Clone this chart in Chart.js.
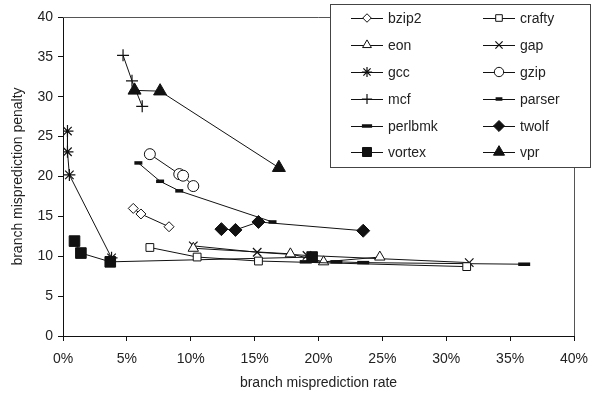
<!DOCTYPE html>
<html>
<head>
<meta charset="utf-8">
<script src="https://cdn.jsdelivr.net/npm/chart.js@4/dist/chart.umd.min.js"></script>
<style>
  html, body { margin: 0; padding: 0; background: #fff; }
  #wrap { width: 593px; height: 400px; }
</style>
</head>
<body>
<div id="wrap"><canvas id="chart" width="593" height="400"></canvas></div>
<script>
// branch misprediction rate (%) / penalty per benchmark
const benchmarks = ['bzip2', 'crafty', 'eon', 'gap', 'gcc', 'gzip', 'mcf', 'parser', 'perlbmk', 'twolf', 'vortex', 'vpr'];

const bzip2Rate = [5.5, 6.1, 8.3];
const bzip2Penalty = [16.0, 15.3, 13.7];
const craftyRate = [6.8, 10.5, 15.3, 31.6];
const craftyPenalty = [11.1, 9.9, 9.4, 8.7];
const eonRate = [10.2, 17.8, 20.4, 24.8];
const eonPenalty = [11.0, 10.3, 9.3, 9.9];
const gapRate = [10.2, 15.2, 19.1, 31.8];
const gapPenalty = [11.3, 10.5, 10.1, 9.2];
const gccRate = [0.35, 0.35, 0.5, 3.8];
const gccPenalty = [25.7, 23.1, 20.2, 9.8];
const gzipRate = [6.8, 9.1, 9.4, 10.2];
const gzipPenalty = [22.8, 20.3, 20.1, 18.8];
const mcfRate = [4.7, 5.4, 6.2];
const mcfPenalty = [35.2, 32.0, 28.8];
const parserRate = [5.9, 7.6, 9.1, 16.4];
const parserPenalty = [21.7, 19.4, 18.2, 14.3];
const perlbmkRate = [19.0, 21.4, 23.5, 36.1];
const perlbmkPenalty = [9.3, 9.3, 9.2, 9.0];
const twolfRate = [12.4, 13.5, 15.3, 23.5];
const twolfPenalty = [13.4, 13.3, 14.3, 13.2];
const vortexRate = [0.9, 1.4, 3.7, 19.5];
const vortexPenalty = [11.9, 10.4, 9.3, 9.9];
const vprRate = [5.6, 7.6, 16.9];
const vprPenalty = [30.8, 30.7, 21.1];

const xTicks = [0, 5, 10, 15, 20, 25, 30, 35, 40];
const yTicks = [0, 5, 10, 15, 20, 25, 30, 35, 40];

const rates = [bzip2Rate, craftyRate, eonRate, gapRate, gccRate, gzipRate, mcfRate, parserRate, perlbmkRate, twolfRate, vortexRate, vprRate];
const penalties = [bzip2Penalty, craftyPenalty, eonPenalty, gapPenalty, gccPenalty, gzipPenalty, mcfPenalty, parserPenalty, perlbmkPenalty, twolfPenalty, vortexPenalty, vprPenalty];

// marker look per series
const markers = [
    { style: 'rectRot', radius: 5, fill: '#fff', bw: 1 },
    { style: 'rect', radius: 5.5, fill: '#fff', bw: 1 },
    { style: 'triangle', radius: 6, fill: '#fff', bw: 1 },
    { style: 'crossRot', radius: 6, fill: '#fff', bw: 1.2 },
    { style: 'star', radius: 6, fill: '#fff', bw: 1.2 },
    { style: 'circle', radius: 5.5, fill: '#fff', bw: 1 },
    { style: 'cross', radius: 6, fill: '#fff', bw: 1.2 },
    { style: 'line', radius: 4, fill: '#111', bw: 3.5 },
    { style: 'line', radius: 6, fill: '#111', bw: 3.5 },
    { style: 'rectRot', radius: 6.5, fill: '#111', bw: 1 },
    { style: 'rect', radius: 7.5, fill: '#111', bw: 1 },
    { style: 'triangle', radius: 7.5, fill: '#111', bw: 1 }
];

const font = 'Liberation Sans, Arial, sans-serif';

const datasets = benchmarks.map(function (name, i) {
    return {
        label: name,
        data: rates[i].map(function (r, j) { return { x: r, y: penalties[i][j] }; }),
        showLine: true,
        borderColor: '#111',
        borderWidth: 1,
        backgroundColor: markers[i].fill,
        pointStyle: markers[i].style,
        pointRadius: markers[i].radius,
        pointBorderWidth: markers[i].bw,
        pointBorderColor: '#111',
        pointBackgroundColor: markers[i].fill
    };
});

// frame around plot + legend box
const framePlugin = {
    id: 'frame',
    afterDraw: function (chart) {
        const ctx = chart.ctx;
        const a = chart.chartArea;
        ctx.save();
        ctx.strokeStyle = '#555';
        ctx.lineWidth = 1;
        ctx.beginPath();
        ctx.moveTo(a.left, Math.round(a.top) + 0.5);
        ctx.lineTo(Math.round(a.right) + 0.5, Math.round(a.top) + 0.5);
        ctx.lineTo(Math.round(a.right) + 0.5, a.bottom);
        ctx.stroke();

        // legend
        const bx = 330.5, by = 4.5, bw = 260, bh = 163;
        ctx.fillStyle = '#fff';
        ctx.fillRect(bx, by, bw, bh);
        ctx.strokeStyle = '#444';
        ctx.strokeRect(bx, by, bw, bh);

        const colX = [367, 499];
        const rowY = [18, 45, 72, 99, 126, 152];
        ctx.font = '14px ' + font;
        ctx.textBaseline = 'middle';
        datasets.forEach(function (ds, i) {
            const cx = colX[i % 2];
            const cy = rowY[Math.floor(i / 2)];
            ctx.strokeStyle = '#111';
            ctx.lineWidth = 1;
            ctx.beginPath();
            ctx.moveTo(cx - 16, cy + 0.5);
            ctx.lineTo(cx + 16, cy + 0.5);
            ctx.stroke();
            const m = markers[i];
            ctx.fillStyle = m.fill;
            ctx.strokeStyle = '#111';
            ctx.lineWidth = m.bw;
            Chart.helpers.drawPoint(ctx, {
                pointStyle: m.style,
                radius: m.radius * 0.85,
                borderWidth: m.bw,
                rotation: 0
            }, cx, cy);
            ctx.fillStyle = '#222';
            ctx.fillText(ds.label, cx + 21, cy + 1);
        });
        ctx.restore();
    }
};

new Chart(document.getElementById('chart'), {
    type: 'scatter',
    data: { datasets: datasets },
    plugins: [framePlugin],
    options: {
        responsive: false,
        animation: false,
        layout: { padding: { left: 0, top: 17, right: 19, bottom: 0 } },
        plugins: {
            legend: { display: false },
            tooltip: { enabled: false }
        },
        scales: {
            x: {
                type: 'linear',
                min: 0,
                max: 40,
                afterBuildTicks: function (s) { s.ticks = xTicks.map(function (v) { return { value: v }; }); },
                afterFit: function (s) { s.height = 64; s.paddingLeft = 0; s.paddingRight = 0; },
                border: { display: true, color: '#111', width: 1 },
                grid: { display: true, drawOnChartArea: false, drawTicks: true, tickLength: 5, color: '#111' },
                ticks: {
                    color: '#222',
                    padding: 10,
                    font: { family: font, size: 14 },
                    callback: function (v) { return v + '%'; }
                },
                title: {
                    display: true,
                    text: 'branch misprediction rate',
                    color: '#222',
                    font: { family: font, size: 14 },
                    padding: { top: 10, bottom: 8 }
                }
            },
            y: {
                type: 'linear',
                min: 0,
                max: 40,
                afterBuildTicks: function (s) { s.ticks = yTicks.map(function (v) { return { value: v }; }); },
                afterFit: function (s) { s.width = 63; s.paddingTop = 0; s.paddingBottom = 0; },
                border: { display: true, color: '#111', width: 1 },
                grid: { display: true, drawOnChartArea: false, drawTicks: true, tickLength: 5, color: '#111' },
                ticks: {
                    color: '#222',
                    padding: 5,
                    font: { family: font, size: 14 }
                },
                title: {
                    display: true,
                    text: 'branch misprediction penalty',
                    color: '#222',
                    font: { family: font, size: 14 },
                    padding: { top: 10, bottom: 4 }
                }
            }
        }
    }
});
</script>
</body>
</html>
